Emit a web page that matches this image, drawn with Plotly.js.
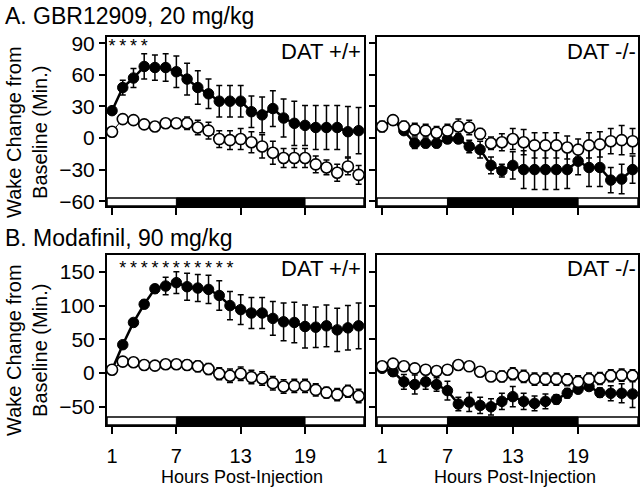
<!DOCTYPE html>
<html>
<head>
<meta charset="utf-8">
<script src="https://cdn.plot.ly/plotly-3.0.1.min.js"></script>
<style>html,body{margin:0;padding:0;background:#fff;}#chart{width:640px;height:490px;}</style>
</head>
<body>
<div id="chart"></div>
<script>
// ---- data ----
const hours = [1,2,3,4,5,6,7,8,9,10,11,12,13,14,15,16,17,18,19,20,21,22,23,24];
const xTickVals = [1,7,13,19];
const xTickText = ['1','7','13','19'];
const gbrTickVals = [-60,-30,0,30,60,90];
const modTickVals = [-50,0,50,100,150];

// A. GBR12909 — DAT +/+
const gbrWtDrug    = [26,48,57,68,67,67,63,56,48,42,35,35,35,25,22,28,19,14,12,10,10,10,6,7];
const gbrWtDrugErr = [3,7,9,12,12,13,15,15,16,14,15,15,15,15,17,17,18,21,19,21,21,21,24,22];
const gbrWtVeh     = [6,18,17,13,11,14,14,14,10,7,-1,-2,-1,-4,-8,-14,-19,-19,-19,-25,-28,-33,-27,-35];
const gbrWtVehErr  = [2,3,3,3,3,3,4,6,7,8,8,9,10,10,11,11,9,9,9,8,7,8,8,9];
// A. GBR12909 — DAT -/-
const gbrKoDrug    = [11,17,7,-5,-5,-5,-1,-1,-8,-11,-26,-31,-26,-30,-30,-30,-30,-30,-22,-28,-28,-40,-39,-30];
const gbrKoDrugErr = [3,3,3,5,4,4,4,4,6,8,8,6,13,18,19,19,19,18,13,18,18,12,14,13];
const gbrKoVeh     = [11,17,11,8,7,5,7,11,10,4,-5,-4,-1,-4,-7,-7,-7,-9,-11,-7,-6,-3,-2,-3];
const gbrKoVehErr  = [5,4,5,6,6,6,6,7,7,5,6,8,10,12,12,12,12,11,10,12,12,12,14,12];
// B. Modafinil — DAT +/+
const modWtDrug    = [5,42,75,102,125,129,134,128,126,124,115,100,94,89,89,81,76,75,69,68,70,64,67,70];
const modWtDrugErr = [3,4,5,6,6,13,16,20,20,21,22,21,22,23,23,25,28,30,32,30,31,32,33,34];
const modWtVeh     = [5,17,16,12,11,13,13,12,10,6,-1,-4,-1,-6,-8,-15,-20,-19,-19,-25,-29,-32,-27,-34];
const modWtVehErr  = [3,3,3,3,3,3,4,7,8,8,9,10,10,10,10,10,10,10,10,9,8,9,9,10];
// B. Modafinil — DAT -/-
const modKoDrug    = [7,2,-13,-17,-13,-17,-26,-46,-43,-48,-50,-42,-35,-42,-45,-42,-39,-30,-24,-20,-29,-30,-30,-31];
const modKoDrugErr = [3,6,11,14,11,10,14,10,14,12,12,12,15,12,11,11,7,7,5,4,7,11,14,20];
const modKoVeh     = [10,14,10,7,5,3,5,12,10,2,-5,-5,-1,-5,-9,-9,-9,-10,-13,-9,-8,-4,-3,-4];
const modKoVehErr  = [4,4,5,5,5,5,4,4,4,3,5,8,9,9,9,9,9,9,9,9,9,9,9,9];

// significance markers
const gbrStarHours = [1,2,3,4];
const modStarHours = [2,3,4,5,6,7,8,9,10,11,12];

// lights-on / lights-off periods (hours)
const darkStart = 7, darkEnd = 19;

const FONT = 'Arial, "Liberation Sans", Helvetica, sans-serif';

function drugTrace(y, err, xa, ya) {
  return {x: hours, y: y, xaxis: xa, yaxis: ya, type: 'scatter', mode: 'lines+markers',
    line: {color: '#000', width: 2.5},
    marker: {color: '#000', size: 10.5, line: {color: '#000', width: 1}},
    error_y: {type: 'data', array: err, visible: true, color: '#000', thickness: 1.5, width: 3},
    showlegend: false, cliponaxis: false};
}
function vehTrace(y, err, xa, ya) {
  return {x: hours, y: y, xaxis: xa, yaxis: ya, type: 'scatter', mode: 'lines+markers',
    line: {color: '#000', width: 1},
    marker: {color: '#fff', size: 11, line: {color: '#000', width: 1.6}},
    error_y: {type: 'data', array: err, visible: true, color: '#000', thickness: 1.5, width: 3},
    showlegend: false, cliponaxis: false};
}
function starTrace(xs, yv, xa, ya) {
  return {x: xs, y: xs.map(() => yv), xaxis: xa, yaxis: ya, type: 'scatter', mode: 'text',
    text: xs.map(() => '*'), textposition: 'middle center',
    textfont: {family: FONT, size: 18, color: '#000'}, showlegend: false, hoverinfo: 'skip'};
}

const data = [
  drugTrace(gbrWtDrug, gbrWtDrugErr, 'x', 'y'),
  vehTrace(gbrWtVeh, gbrWtVehErr, 'x', 'y'),
  drugTrace(gbrKoDrug, gbrKoDrugErr, 'x2', 'y2'),
  vehTrace(gbrKoVeh, gbrKoVehErr, 'x2', 'y2'),
  drugTrace(modWtDrug, modWtDrugErr, 'x3', 'y3'),
  vehTrace(modWtVeh, modWtVehErr, 'x3', 'y3'),
  drugTrace(modKoDrug, modKoDrugErr, 'x4', 'y4'),
  vehTrace(modKoVeh, modKoVehErr, 'x4', 'y4'),
  starTrace(gbrStarHours, 86, 'x', 'y'),
  starTrace(modStarHours, 154, 'x3', 'y3')
];

const W = 640, H = 490;
const px = v => v / W;
const py = v => (H - v) / H;

const leftDom = [px(107), px(364)];
const rightDom = [px(377), px(638)];
const topDom = [py(206), py(37)];
const botDom = [py(425), py(255)];

function xax(dom, anchor, labels) {
  return {domain: dom, anchor: anchor, range: [0.53, 24.5], tickvals: xTickVals, ticktext: xTickText,
    showticklabels: labels, ticks: 'outside', ticklen: 7, tickwidth: 2, tickcolor: '#000',
    ticklabelstandoff: 5,
    showline: true, linecolor: '#000', linewidth: 2, mirror: true, showgrid: false, zeroline: false,
    tickfont: {family: FONT, size: 20, color: '#000'}, fixedrange: true};
}
function yax(dom, anchor, range, tv, labels) {
  return {domain: dom, anchor: anchor, range: range, tickvals: tv,
    showticklabels: labels, ticks: 'outside', ticklen: 6, tickwidth: 2, tickcolor: '#000',
    showline: true, linecolor: '#000', linewidth: 2, mirror: true, showgrid: false, zeroline: false,
    tickfont: {family: FONT, size: 21, color: '#000'}, fixedrange: true};
}

const gbrRange = [-64.6, 96];
const modRange = [-77, 175];

function barShapes(xa, ya, frac) {
  return [
    {type: 'rect', xref: xa + ' domain', yref: ya + ' domain', x0: 0, x1: 1, y0: 0, y1: frac,
      fillcolor: '#fff', line: {color: '#000', width: 1.5}, layer: 'above'},
    {type: 'rect', xref: xa, yref: ya + ' domain', x0: darkStart, x1: darkEnd, y0: 0, y1: frac,
      fillcolor: '#000', line: {color: '#000', width: 1}, layer: 'above'}
  ];
}

const shapes = [].concat(
  barShapes('x', 'y', 8 / 169),
  barShapes('x2', 'y2', 8 / 169),
  barShapes('x3', 'y3', 8 / 170),
  barShapes('x4', 'y4', 8 / 170)
);

function ann(text, x, y, size, xanchor, extra) {
  return Object.assign({text: text, xref: 'paper', yref: 'paper', x: x, y: y, xanchor: xanchor, yanchor: 'middle',
    showarrow: false, font: {family: FONT, size: size, color: '#000'}}, extra || {});
}

const annotations = [
  ann('A. GBR12909, 20 mg/kg', px(3), py(16), 23, 'left'),
  ann('B. Modafinil, 90 mg/kg', px(3), py(238), 23, 'left'),
  ann('DAT +/+', px(363), py(51), 22, 'right'),
  ann('DAT -/-', px(638), py(51), 22, 'right'),
  ann('DAT +/+', px(363), py(269), 22, 'right'),
  ann('DAT -/-', px(638), py(269), 22, 'right'),
  ann('Wake Change from<br>Baseline (Min.)', px(27), py(132), 20, 'center', {textangle: -90}),
  ann('Wake Change from<br>Baseline (Min.)', px(27), py(350), 20, 'center', {textangle: -90}),
  ann('Hours Post-Injection', px(242), py(477), 18, 'center'),
  ann('Hours Post-Injection', px(515), py(477), 18, 'center')
];

const layout = {
  width: W, height: H, margin: {l: 0, r: 0, t: 0, b: 0},
  paper_bgcolor: '#fff', plot_bgcolor: '#fff', showlegend: false,
  font: {family: FONT, color: '#000'},
  xaxis: xax(leftDom, 'y', false),
  yaxis: yax(topDom, 'x', gbrRange, gbrTickVals, true),
  xaxis2: xax(rightDom, 'y2', false),
  yaxis2: yax(topDom, 'x2', gbrRange, gbrTickVals, false),
  xaxis3: xax(leftDom, 'y3', true),
  yaxis3: yax(botDom, 'x3', modRange, modTickVals, true),
  xaxis4: xax(rightDom, 'y4', true),
  yaxis4: yax(botDom, 'x4', modRange, modTickVals, false),
  shapes: shapes,
  annotations: annotations
};

Plotly.newPlot('chart', data, layout, {displayModeBar: false, staticPlot: true});
</script>
</body>
</html>
